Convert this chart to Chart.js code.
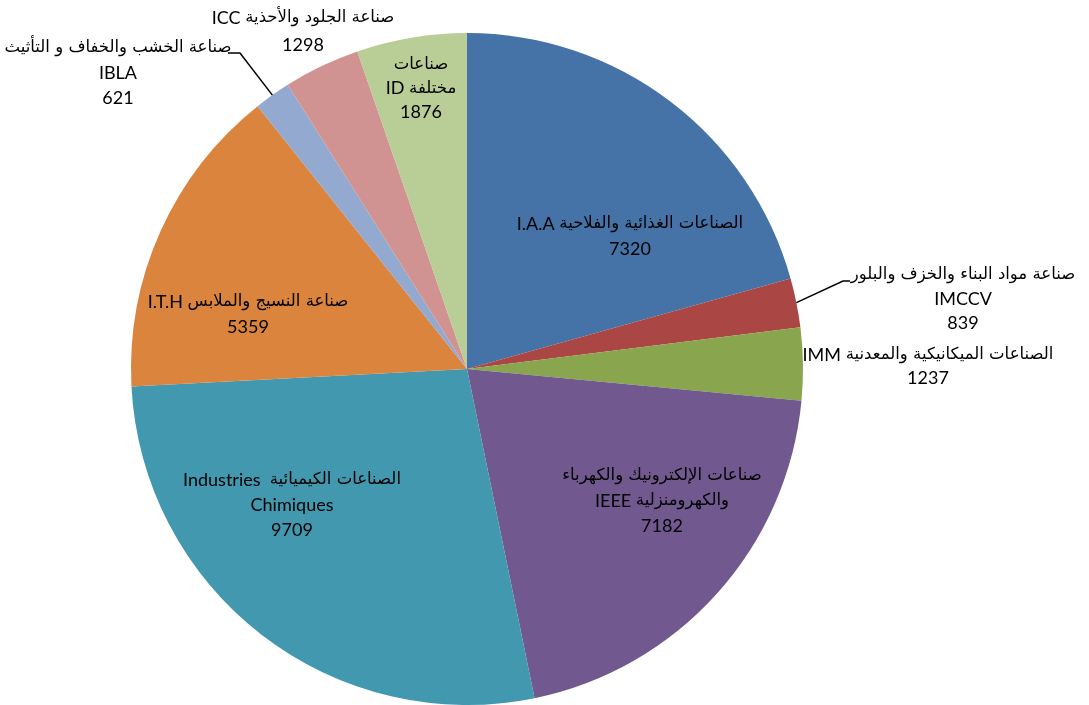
<!DOCTYPE html>
<html>
<head>
<meta charset="utf-8">
<script src="https://cdn.jsdelivr.net/npm/chart.js@4/dist/chart.umd.min.js"></script>
<style>
  html, body { margin: 0; padding: 0; background: #ffffff; }
  #c { display: block; }
</style>
</head>
<body>
<canvas id="c" width="1089" height="705"></canvas>
<script>
// ---- Data ----
const categories = ['I.A.A', 'IMCCV', 'IMM', 'IEEE', 'IC', 'I.T.H', 'IBLA', 'ICC', 'ID'];
const values = [7320, 839, 1237, 7182, 9709, 5359, 621, 1298, 1876];
// label text lines (visual order, left-to-right)
const labelLines = [
  ['I.A.A الصناعات الغذائية والفلاحية', '7320'],
  ['صناعة مواد البناء والخزف والبلور', 'IMCCV', '839'],
  ['IMM الصناعات الميكانيكية والمعدنية', '1237'],
  ['صناعات الإلكترونيك والكهرباء', 'IEEE والكهرومنزلية', '7182'],
  ['Industries  الصناعات الكيميائية', 'Chimiques', '9709'],
  ['I.T.H صناعة النسيج والملابس', '5359'],
  ['صناعة الخشب والخفاف و التأثيث', 'IBLA', '621'],
  ['ICC صناعة الجلود والأحذية', '1298'],
  ['صناعات', 'ID مختلفة', '1876']
];
const colors = ['#4572A7', '#AA4643', '#89A54E', '#71588F', '#4198AF', '#DB843D', '#93A9CF', '#D19392', '#B9CD96'];

// ---- Label placement (offsets from pie centre, px) ----
const labelPos = [
  {dx: 163, dy: -145, lh: 25},
  {dx: 496, dy: -94, lh: 24, leader: [[376, -88], [383, -88]]},
  {dx: 461, dy: -14, lh: 23},
  {dx: 195, dy: 107, lh: 25},
  {dx: -175, dy: 111, lh: 25},
  {dx: -219, dy: -67, lh: 25},
  {dx: -349, dy: -321, lh: 25, leader: [[-227, -316], [-239, -316]]},
  {dx: -164, dy: -351, lh: 27},
  {dx: -46, dy: -304, lh: 23.5}
];

const LATIN_FONT = "18px Lato, 'DejaVu Sans', sans-serif";
const ARABIC_FONT = "16.5px 'DejaVu Sans', sans-serif";

function splitRuns(text) {
  const re = /[\u0600-\u06FF](?:[\u0600-\u06FF\s]*[\u0600-\u06FF])?/g;
  const runs = [];
  let last = 0, m;
  while ((m = re.exec(text)) !== null) {
    if (m.index > last) runs.push({t: text.slice(last, m.index), ar: false});
    runs.push({t: m[0], ar: true});
    last = m.index + m[0].length;
  }
  if (last < text.length) runs.push({t: text.slice(last), ar: false});
  return runs;
}

function drawMixed(ctx, text, cx, y) {
  const runs = splitRuns(text);
  let total = 0;
  runs.forEach(r => {
    ctx.font = r.ar ? ARABIC_FONT : LATIN_FONT;
    r.w = ctx.measureText(r.t).width;
    total += r.w;
  });
  let x = cx - total / 2;
  runs.forEach(r => {
    ctx.font = r.ar ? ARABIC_FONT : LATIN_FONT;
    ctx.direction = r.ar ? 'rtl' : 'ltr';
    ctx.textAlign = r.ar ? 'right' : 'left';
    ctx.fillText(r.t, r.ar ? x + r.w : x, y);
    x += r.w;
  });
}

const labelPlugin = {
  id: 'sliceLabels',
  afterDraw(chart) {
    const ctx = chart.ctx;
    const meta = chart.getDatasetMeta(0);
    ctx.save();
    ctx.textBaseline = 'middle';
    ctx.fillStyle = '#000000';
    meta.data.forEach((arc, i) => {
      const p = labelPos[i];
      const cx = arc.x, cy = arc.y;
      if (p.leader) {
        const mid = (arc.startAngle + arc.endAngle) / 2;
        const r = arc.outerRadius;
        ctx.beginPath();
        ctx.moveTo(cx + Math.cos(mid) * r, cy + Math.sin(mid) * r);
        p.leader.forEach(pt => ctx.lineTo(cx + pt[0], cy + pt[1]));
        ctx.strokeStyle = '#000000';
        ctx.lineWidth = 1.5;
        ctx.stroke();
      }
      labelLines[i].forEach((t, k) => {
        drawMixed(ctx, t, cx + p.dx, cy + p.dy + k * p.lh);
      });
    });
    ctx.restore();
  }
};

new Chart(document.getElementById('c'), {
  type: 'pie',
  data: {
    labels: categories,
    datasets: [{
      data: values,
      backgroundColor: colors,
      borderWidth: 0,
      hoverOffset: 0
    }]
  },
  options: {
    responsive: false,
    animation: false,
    layout: { padding: { top: 33, left: 131, right: 286, bottom: 0 } },
    plugins: {
      legend: { display: false },
      tooltip: { enabled: false }
    }
  },
  plugins: [labelPlugin]
});
</script>
</body>
</html>
